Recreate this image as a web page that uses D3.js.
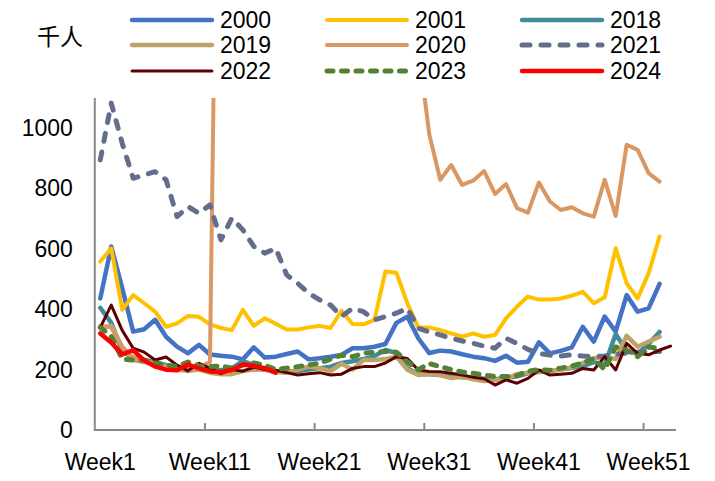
<!DOCTYPE html>
<html>
<head>
<meta charset="utf-8">
<script src="https://cdn.jsdelivr.net/npm/d3@7"></script>
<style>
  body { margin: 0; background: #fff; }
  svg { display: block; font-family: "Liberation Sans", Arial, sans-serif; }
</style>
</head>
<body>
<div id="chart"></div>
<script>
// weekly values, thousand persons
const weeks = d3.range(1, 54).map((i) => `Week${i}`);
const tickWeeks = ["Week1", "Week11", "Week21", "Week31", "Week41", "Week51"];
const yTicks = [0, 200, 400, 600, 800, 1000];
const years = ["2000", "2001", "2018", "2019", "2020", "2021", "2022", "2023", "2024"];

const v2000 = [436, 608, 470, 326, 334, 365, 309, 276, 254, 282, 250, 246, 243, 234, 274, 240, 243, 252, 260, 234, 238, 243, 249, 271, 271, 276, 285, 355, 375, 304, 255, 263, 260, 251, 243, 238, 229, 246, 223, 226, 290, 254, 262, 274, 342, 293, 376, 326, 447, 392, 403, 484];
const v2001 = [558, 602, 398, 447, 420, 392, 342, 353, 378, 375, 350, 338, 331, 398, 345, 370, 352, 333, 333, 340, 345, 338, 395, 351, 350, 365, 525, 521, 420, 340, 340, 331, 320, 309, 320, 309, 315, 370, 409, 442, 432, 432, 436, 445, 458, 420, 440, 602, 486, 436, 519, 641];
const v2018 = [405, 355, 260, 240, 232, 225, 215, 205, 205, 210, 200, 198, 205, 228, 215, 200, 192, 195, 195, 200, 205, 210, 222, 228, 235, 245, 265, 255, 205, 185, 185, 182, 178, 175, 172, 170, 168, 172, 178, 188, 192, 195, 200, 205, 212, 225, 215, 318, 262, 252, 285, 325];
const v2019 = [340, 345, 275, 232, 225, 220, 210, 200, 195, 200, 190, 185, 185, 195, 200, 200, 192, 190, 200, 210, 205, 195, 220, 200, 232, 232, 235, 243, 200, 182, 187, 182, 172, 177, 168, 162, 165, 170, 185, 190, 193, 196, 200, 208, 222, 237, 243, 235, 312, 276, 293, 309];
const v2020 = [345, 340, 275, 240, 228, 220, 210, 205, 200, 208, 225, 2920, 6015, 6211, 4971, 4281, 3489, 2849, 2545, 2174, 2113, 1897, 1618, 1571, 1437, 1399, 1383, 1477, 1373, 1266, 980, 829, 878, 812, 826, 858, 782, 815, 735, 720, 820, 757, 729, 738, 718, 707, 829, 709, 945, 928, 851, 823];
const v2021 = [895, 1083, 950, 834, 845, 856, 829, 707, 740, 718, 746, 630, 702, 663, 608, 586, 602, 514, 486, 453, 431, 414, 376, 403, 392, 365, 376, 387, 403, 337, 325, 315, 304, 295, 287, 278, 271, 304, 287, 267, 254, 248, 245, 250, 245, 243, 245, 250, 255, 258, 260, 260];
const v2022 = [340, 414, 330, 271, 258, 232, 242, 215, 196, 221, 205, 187, 200, 195, 208, 200, 198, 190, 182, 186, 190, 182, 185, 204, 210, 210, 222, 243, 237, 199, 194, 193, 188, 182, 175, 170, 149, 166, 155, 171, 199, 182, 185, 188, 204, 199, 243, 199, 287, 254, 249, 265, 278];
const v2023 = [340, 310, 235, 232, 232, 222, 215, 210, 225, 212, 210, 212, 205, 215, 222, 215, 200, 205, 210, 215, 222, 235, 248, 243, 254, 258, 260, 258, 226, 200, 220, 210, 200, 192, 188, 182, 177, 177, 180, 195, 200, 198, 205, 212, 222, 237, 200, 275, 265, 243, 275, 270];
const v2024 = [320, 290, 250, 265, 230, 210, 200, 198, 217, 204, 194, 192, 199, 217, 212, 205, 190];

const seriesValues = [v2000, v2001, v2018, v2019, v2020, v2021, v2022, v2023, v2024];

// drawing style per year
const styles = {
  2000: { color: "#4472C4", width: 4.5 },
  2001: { color: "#FFC000", width: 4 },
  2018: { color: "#3F8C9C", width: 4.5 },
  2019: { color: "#BFA368", width: 4.5 },
  2020: { color: "#DA9762", width: 4 },
  2021: { color: "#646E8C", width: 5, dash: "8,11" },
  2022: { color: "#5E0000", width: 3 },
  2023: { color: "#548235", width: 5, dash: "6,8.5" },
  2024: { color: "#FF0000", width: 4.5 },
};

const width = 715;
const height = 481;
const plotLeft = 94.8;
const plotRight = 676;
const plotTop = 98;
const plotBottom = 430;
const axisColor = "#898989";

const svg = d3
  .select("#chart")
  .append("svg")
  .attr("width", width)
  .attr("height", height);

const x = d3.scaleBand().domain(weeks).range([plotLeft, plotRight]).padding(0);
const xIdx = d3.scaleLinear().domain([0, weeks.length]).range([plotLeft, plotRight]);
const y = d3.scaleLinear().domain([0, 1100]).range([plotBottom, plotTop]);

svg
  .append("clipPath")
  .attr("id", "plot-clip")
  .append("rect")
  .attr("x", plotLeft)
  .attr("y", plotTop)
  .attr("width", plotRight - plotLeft)
  .attr("height", plotBottom - plotTop);

// axes
const gy = svg
  .append("g")
  .attr("transform", `translate(${plotLeft},0)`)
  .call(
    d3.axisLeft(y)
      .tickValues(yTicks)
      .tickFormat(d3.format("d"))
      .tickSize(0)
      .tickPadding(22)
  );
gy.select(".domain").remove();
gy.selectAll("text")
  .attr("font-size", 23)
  .attr("font-family", null)
  .attr("fill", "#000");

svg
  .append("line")
  .attr("x1", plotLeft)
  .attr("x2", plotLeft)
  .attr("y1", plotTop)
  .attr("y2", plotBottom)
  .attr("stroke", axisColor)
  .attr("stroke-width", 2);

const gTicks = svg
  .append("g")
  .attr("transform", `translate(0,${plotBottom})`)
  .call(
    d3.axisBottom(xIdx)
      .tickValues([10, 20, 30, 40, 50])
      .tickSize(-7)
      .tickFormat("")
  );
gTicks.select(".domain").remove();
gTicks.selectAll("line").attr("stroke", axisColor).attr("stroke-width", 2);

svg
  .append("line")
  .attr("x1", plotLeft - 1)
  .attr("x2", plotRight)
  .attr("y1", plotBottom)
  .attr("y2", plotBottom)
  .attr("stroke", axisColor)
  .attr("stroke-width", 2);

const gx = svg
  .append("g")
  .attr("transform", `translate(0,${plotBottom})`)
  .call(d3.axisBottom(x).tickValues(tickWeeks).tickSize(0).tickPadding(24));
gx.select(".domain").remove();
gx.selectAll("text")
  .attr("font-size", 23)
  .attr("font-family", null)
  .attr("fill", "#000");

// series lines
const line = d3
  .line()
  .x((d, i) => x(weeks[i]) + x.bandwidth() / 2)
  .y((d) => y(d));

svg
  .append("g")
  .attr("clip-path", "url(#plot-clip)")
  .selectAll("path")
  .data(years)
  .join("path")
  .attr("d", (d, i) => line(seriesValues[i]))
  .attr("fill", "none")
  .attr("stroke", (d) => styles[d].color)
  .attr("stroke-width", (d) => styles[d].width)
  .attr("stroke-dasharray", (d) => styles[d].dash || null)
  .attr("stroke-linejoin", "round")
  .attr("stroke-linecap", "round");

// unit label
svg
  .append("text")
  .attr("x", 37)
  .attr("y", 37)
  .attr("dy", "0.35em")
  .attr("font-size", 23)
  .attr("font-family", "'Noto Sans CJK SC', sans-serif")
  .text("千人");

// legend
const legendX = [132, 327, 522];
const legendY = [20, 45, 71];
const legend = svg
  .append("g")
  .selectAll("g")
  .data(years)
  .join("g")
  .attr("transform", (d, i) => `translate(${legendX[i % 3]},${legendY[Math.floor(i / 3)]})`);

legend
  .append("line")
  .attr("x1", 0)
  .attr("x2", 80)
  .attr("stroke", (d) => styles[d].color)
  .attr("stroke-width", (d) => styles[d].width)
  .attr("stroke-dasharray", (d) => styles[d].dash || null)
  .attr("stroke-linecap", "round");

legend
  .append("text")
  .attr("x", 88)
  .attr("dy", "0.35em")
  .attr("font-size", 23)
  .text((d) => d);
</script>
</body>
</html>
